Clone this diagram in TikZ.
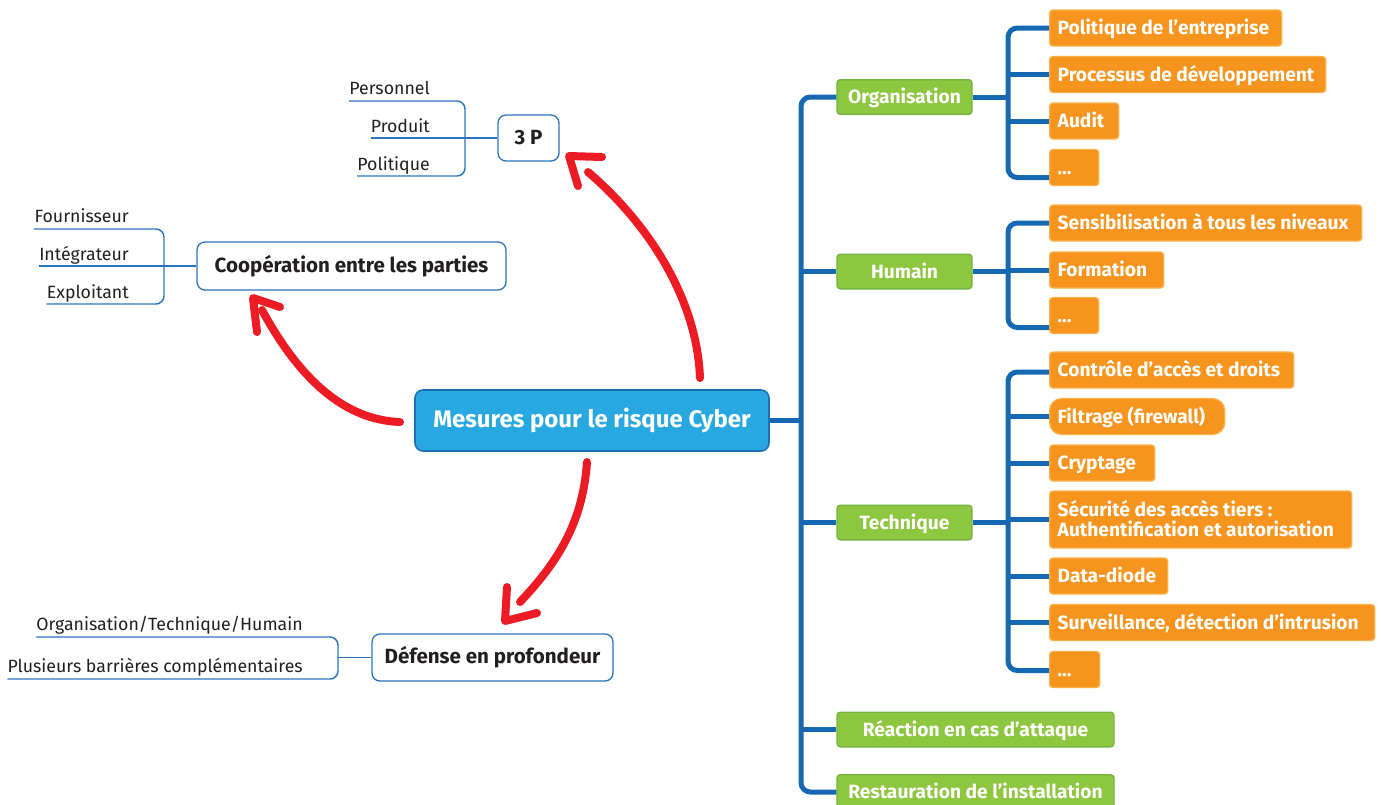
\documentclass[tikz,border=0pt]{standalone}
\usepackage{fontspec}
\setmainfont{Fira Sans}
\definecolor{trunkblue}{HTML}{1668B2}
\definecolor{thinblue}{HTML}{2B74BA}
\definecolor{cenfill}{HTML}{27A8E0}
\definecolor{cenline}{HTML}{1B70B8}
\definecolor{greenfill}{HTML}{8DC63F}
\definecolor{greenline}{HTML}{72B43F}
\definecolor{orangefill}{HTML}{F7941E}
\definecolor{orangeline}{HTML}{FBB04A}
\definecolor{arrowred}{HTML}{ED1C24}
\definecolor{textdark}{HTML}{231F20}
\newcommand\olab[2]{\makebox[#1pt][l]{#2}}
\begin{document}
\begin{tikzpicture}[x=0.75pt,y=-0.75pt,
  trunk/.style={draw=trunkblue, line width=3.75pt, rounded corners=7pt},
  thinb/.style={draw=thinblue, line width=1.1pt, rounded corners=6pt},
  obox/.style={fill=orangefill, draw=orangeline, line width=1pt, rounded corners=2.5pt, inner xsep=6pt, inner ysep=0pt, minimum height=27pt, text height=10pt, text depth=0pt, anchor=west, text=white, font=\bfseries\fontsize{14.4}{16}\selectfont},
  gbox/.style={fill=greenfill, draw=greenline, line width=1pt, rounded corners=2.5pt, inner sep=0pt, minimum height=26pt, text height=10pt, text depth=0pt, text=white, font=\bfseries\fontsize{14.4}{16}\selectfont},
  wbox/.style={fill=white, draw=thinblue, line width=1pt, rounded corners=6pt, inner sep=0pt, text=textdark, font=\bfseries\fontsize{15.4}{18}\selectfont},
  lbl/.style={inner sep=0pt, anchor=base east, text=textdark, font=\fontsize{13.3}{15}\selectfont},
  redarrow/.style={draw=arrowred, line width=6pt, line cap=round, line join=round}
]
\useasboundingbox (0,0) rectangle (1381,804);

% central node
\node[fill=cenfill, draw=cenline, line width=1.2pt, rounded corners=6pt, inner sep=0pt,
  minimum width=265.5pt, minimum height=45.75pt, text=white,
  font=\bfseries\fontsize{18}{21}\selectfont] (cen) at (592,420.5) {Mesures pour le risque Cyber};

% green nodes
\node[gbox, minimum width=101.25pt] (org) at (904.5,97) {Organisation};
\node[gbox, minimum width=101.25pt] (hum) at (904.5,271.5) {Humain};
\node[gbox, minimum width=101.25pt] (tec) at (904.5,522.5) {Technique};
\node[gbox, minimum width=207.75pt] (rea) at (975.5,729.5) {Réaction en cas d’attaque};
\node[gbox, minimum width=207.75pt] (res) at (975.5,792) {Restauration de l’installation};

% orange nodes
\node[obox] (o1) at (1049,28) {\olab{162}{Politique de l’entreprise}};
\node[obox] (o2) at (1049,74.5) {\olab{195}{Processus de développement}};
\node[obox] (o3) at (1049,121) {\olab{39.75}{Audit}};
\node[obox] (o4) at (1049,167.5) {\olab{24.75}{…}};
\node[obox] (h1) at (1049,223) {\olab{222}{Sensibilisation à tous les niveaux}};
\node[obox] (h2) at (1049,270) {\olab{73.5}{Formation}};
\node[obox] (h3) at (1049,315.5) {\olab{24.75}{…}};
\node[obox] (t1) at (1049,370) {\olab{171}{Contrôle d’accès et droits}};
\node[obox, rounded corners=9pt] (t2) at (1049,416.5) {\olab{119.25}{Filtrage (firewall)}};
\node[obox] (t3) at (1049,463) {\olab{66.75}{Cryptage}};
\node[obox, minimum height=42.75pt, text height=10pt, text depth=15pt] (t4) at (1049,519.5) {\parbox[t]{214.5pt}{\raggedright\baselineskip=15pt Sécurité des accès tiers :\\Authentification et autorisation}};
\node[obox] (t5) at (1049,576) {\olab{76.5}{Data-diode}};
\node[obox] (t6) at (1049,622.5) {\olab{231.75}{Surveillance, détection d’intrusion}};
\node[obox] (t7) at (1049,669.5) {\olab{25.5}{…}};

% main trunk
\coordinate (tk) at (801,420);
\coordinate (sx) at (1008,0);
\draw[trunk] (cen.east) -- (cen.east -| tk);
\draw[trunk] (org.west) -- (org.west -| tk) -- (res.west -| tk) -- (res.west);
\draw[trunk] (hum.west -| tk) -- (hum.west);
\draw[trunk] (tec.west -| tk) -- (tec.west);
\draw[trunk] (rea.west -| tk) -- (rea.west);

% organisation branch
\coordinate (o4c) at ([yshift=-7.5pt]o4.west);
\draw[trunk] (org.east) -- (org.east -| sx);
\draw[trunk] (o1.west) -- (o1.west -| sx) -- (o4c -| sx) -- (o4c);
\draw[trunk] (o2.west -| sx) -- (o2.west);
\draw[trunk] (o3.west -| sx) -- (o3.west);

% humain branch
\coordinate (h3c) at ([yshift=-9pt]h3.west);
\draw[trunk] (hum.east) -- (hum.east -| sx);
\draw[trunk] (h1.west) -- (h1.west -| sx) -- (h3c -| sx) -- (h3c);
\draw[trunk] (h2.west -| sx) -- (h2.west);

% technique branch
\coordinate (t7c) at ([yshift=-0.75pt]t7.west);
\draw[trunk] (tec.east) -- (tec.east -| sx);
\draw[trunk] ([yshift=-1.5pt]t1.west) -- ([yshift=-1.5pt]t1.west -| sx) -- (t7c -| sx) -- (t7c);
\draw[trunk] (t2.west -| sx) -- (t2.west);
\draw[trunk] (t3.west -| sx) -- (t3.west);
\draw[trunk] (t4.west -| sx) -- (t4.west);
\draw[trunk] (t5.west -| sx) -- (t5.west);
\draw[trunk] (t6.west -| sx) -- (t6.west);

% white boxes
\node[wbox, minimum width=45.75pt, minimum height=34.5pt] (tp) at (528.5,138) {3 P};
\node[wbox, minimum width=231.75pt, minimum height=36pt] (coop) at (351.5,266) {Coopération entre les parties};
\node[wbox, minimum width=180.75pt, minimum height=35.25pt] (def) at (492.5,657.5) {Défense en profondeur};

% 3P labels
\node[lbl] (pers) at (430,94) {Personnel};
\node[lbl] (prod) at (430,132) {Produit};
\node[lbl] (poli) at (430,170) {Politique};
\coordinate (pl1) at (0,101);
\coordinate (pl3) at (0,176);
\coordinate (pbx) at (465,0);
\draw[thinb] (pers.west |- pl1) -- (pbx |- pl1) -- (pbx |- pl3) -- (poli.west |- pl3);
\draw[thinb] (prod.west |- tp.west) -- (tp.west);

% cooperation labels
\node[lbl] (four) at (129,222) {Fournisseur};
\node[lbl] (inte) at (129,260) {Intégrateur};
\node[lbl] (expl) at (129,298) {Exploitant};
\coordinate (cl1) at (0,229);
\coordinate (cl3) at (0,304);
\coordinate (cbx) at (164,0);
\draw[thinb] (four.west |- cl1) -- (cbx |- cl1) -- (cbx |- cl3) -- (expl.west |- cl3);
\draw[thinb] (inte.west |- coop.west) -- (coop.west);

% defense labels
\node[lbl] (oth) at (303,630) {Organisation/Technique/Humain};
\node[lbl] (plu) at (303,672) {Plusieurs barrières complémentaires};
\coordinate (dl1) at (0,637);
\coordinate (dl3) at (0,679);
\coordinate (dbx) at (338,0);
\draw[thinb] (oth.west |- dl1) -- (dbx |- dl1) -- (dbx |- dl3) -- (plu.west |- dl3);
\draw[thinb] (dbx |- def.west) -- (def.west);

% red arrows
\coordinate (a1s) at (700,378);
\coordinate (a1e) at (588,172);
\coordinate (a1t) at (569,156);
\draw[redarrow] (a1s) .. controls (697,300) and (650,225) .. (a1e);
\draw[redarrow] (602,157) -- (a1t) -- (578,186);

\coordinate (a2s) at (400,422);
\coordinate (a2e) at (262,310);
\coordinate (a2t) at (253,298);
\draw[redarrow] (a2s) .. controls (345,420) and (300,380) .. (a2e);
\draw[redarrow] (280,307) -- (a2t) -- (257,332);

\coordinate (a3s) at (587,462);
\coordinate (a3e) at (520,602);
\coordinate (a3t) at (505,621);
\draw[redarrow] (a3s) .. controls (583,520) and (560,560) .. (a3e);
\draw[redarrow] (507,587) -- (a3t) -- (537,613);
\end{tikzpicture}
\end{document}
